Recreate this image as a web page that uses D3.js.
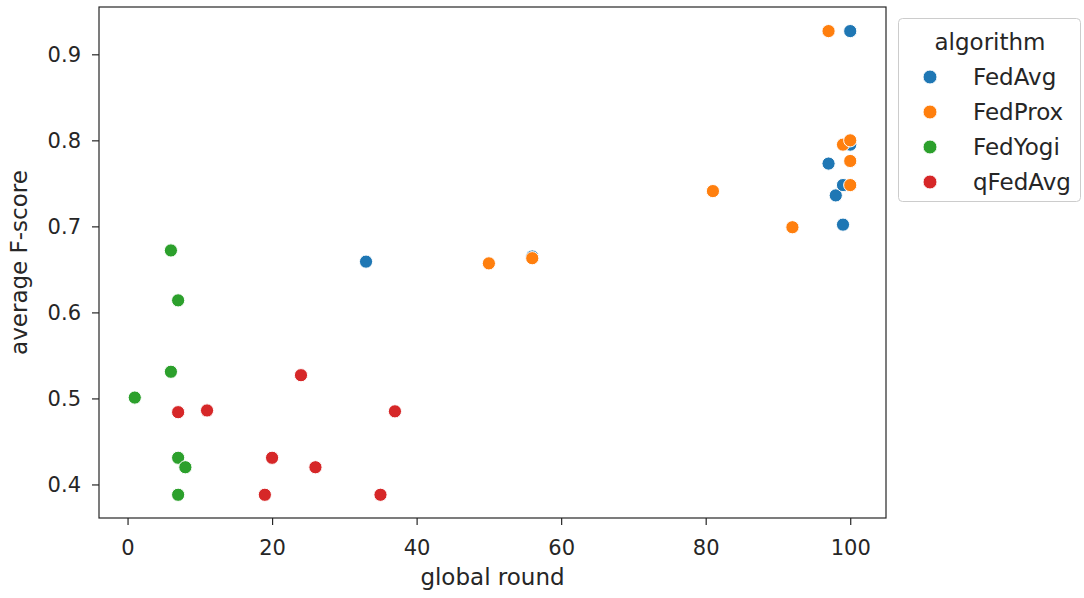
<!DOCTYPE html>
<html><head><meta charset="utf-8">
<script src="https://cdn.jsdelivr.net/npm/d3@7"></script>
<style>body{margin:0;background:#fff}svg{display:block}text{font-family:"DejaVu Sans",sans-serif}</style>
</head><body>
<script>
const algorithms = ["FedAvg","FedProx","FedYogi","qFedAvg"];
const colors = ["#1f77b4","#ff7f0e","#2ca02c","#d62728"];
const fedAvgRound = [100,33,97,98,99,99,100,56];
const fedAvgScore = [0.927,0.659,0.773,0.736,0.748,0.702,0.795,0.665];
const fedProxRound = [97,50,56,81,92,99,100,100,100];
const fedProxScore = [0.927,0.657,0.663,0.741,0.699,0.795,0.800,0.776,0.748];
const fedYogiRound = [6,7,6,1,7,8,7];
const fedYogiScore = [0.672,0.614,0.531,0.501,0.431,0.420,0.388];
const qFedAvgRound = [7,11,24,37,20,26,19,35];
const qFedAvgScore = [0.484,0.486,0.527,0.485,0.431,0.420,0.388,0.388];
const xTicks = [0,20,40,60,80,100];
const yTicks = [0.4,0.5,0.6,0.7,0.8,0.9];

const series = [
  {name:algorithms[0], rounds:fedAvgRound, scores:fedAvgScore},
  {name:algorithms[1], rounds:fedProxRound, scores:fedProxScore},
  {name:algorithms[2], rounds:fedYogiRound, scores:fedYogiScore},
  {name:algorithms[3], rounds:qFedAvgRound, scores:qFedAvgScore}
];

const W=1084,H=598, L=99,R=886,T=7,B=518;
const svg=d3.select("body").append("svg").attr("width",W).attr("height",H);
const x=d3.scaleLinear().domain([-3.95,104.95]).range([L,R]);
const y=d3.scaleLinear().domain([0.361,0.955]).range([B,T]);
const color=d3.scaleOrdinal().domain(algorithms).range(colors);
const txt="#262626";

const gx=svg.append("g").attr("transform",`translate(0,${B})`)
  .call(d3.axisBottom(x).tickValues(xTicks).tickFormat(d3.format("d")).tickSize(7).tickPadding(5));
const gy=svg.append("g").attr("transform",`translate(${L},0)`)
  .call(d3.axisLeft(y).tickValues(yTicks).tickFormat(d3.format(".1f")).tickSize(7).tickPadding(11));
[gx,gy].forEach(g=>{
  g.select(".domain").remove();
  g.selectAll(".tick line").attr("stroke",txt).attr("stroke-width",1.2);
  g.selectAll(".tick text").attr("fill",txt).style("font-size","21px");
});
gx.selectAll(".tick text").attr("y",37).attr("dy",0);

// points
const pts=[];
series.forEach(s=>s.rounds.forEach((r,i)=>pts.push({name:s.name,r:r,v:s.scores[i]})));
svg.append("g").selectAll("circle").data(pts).join("circle")
  .attr("cx",d=>x(d.r)).attr("cy",d=>y(d.v)).attr("r",6.6)
  .attr("fill",d=>color(d.name)).attr("stroke","#fff").attr("stroke-width",1);

// frame
svg.append("rect").attr("x",L).attr("y",T).attr("width",R-L).attr("height",B-T)
  .attr("fill","none").attr("stroke",txt).attr("stroke-width",1.2);

svg.append("text").attr("x",(L+R)/2).attr("y",585).attr("text-anchor","middle")
  .attr("fill",txt).style("font-size","23px").text("global round");
svg.append("text").attr("transform",`translate(27,${(T+B)/2}) rotate(-90)`).attr("text-anchor","middle")
  .attr("fill",txt).style("font-size","23px").text("average F-score");

// legend
const lg=svg.append("g");
lg.append("rect").attr("x",898.5).attr("y",18.5).attr("width",182).attr("height",183).attr("rx",4)
  .attr("fill","#fff").attr("fill-opacity",0.8).attr("stroke","#cccccc").attr("stroke-width",1);
lg.append("text").attr("x",990).attr("y",50).attr("text-anchor","middle").attr("fill",txt)
  .style("font-size","23px").text("algorithm");
const items=lg.selectAll("g.it").data(algorithms).join("g").attr("class","it")
  .attr("transform",(d,i)=>`translate(0,${77+i*35})`);
items.append("circle").attr("cx",930).attr("cy",0).attr("r",7).attr("fill",d=>color(d)).attr("stroke","#fff").attr("stroke-width",1);
items.append("text").attr("x",973).attr("y",8).attr("fill",txt).style("font-size","23px").text(d=>d);
</script>
</body></html>
